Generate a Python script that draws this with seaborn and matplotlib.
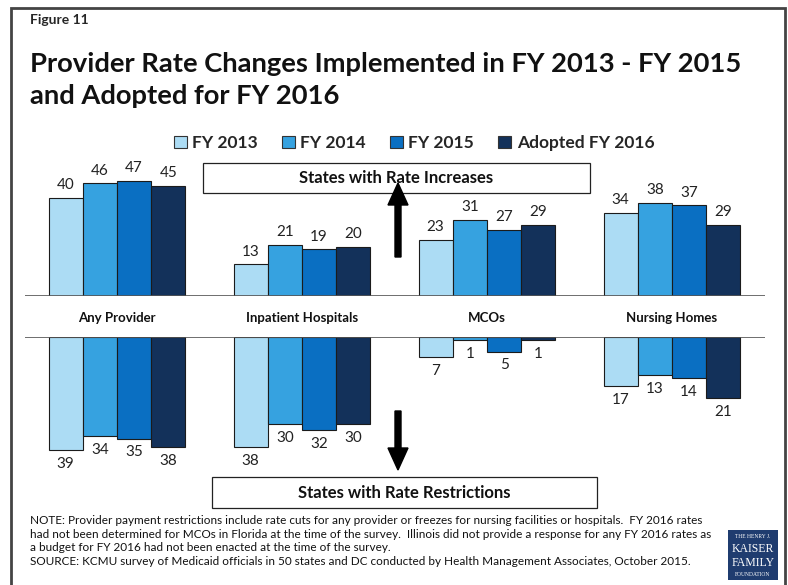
import numpy as np
import pandas as pd
import matplotlib
matplotlib.use('Agg')
import matplotlib.pyplot as plt
import seaborn as sns
from matplotlib.patches import Rectangle, FancyArrow, Patch

# Data
providers = ['Any Provider', 'Inpatient Hospitals', 'MCOs', 'Nursing Homes']
years = ['FY 2013', 'FY 2014', 'FY 2015', 'Adopted FY 2016']
increases = {
    'FY 2013': [40, 13, 23, 34],
    'FY 2014': [46, 21, 31, 38],
    'FY 2015': [47, 19, 27, 37],
    'Adopted FY 2016': [45, 20, 29, 29],
}
restrictions = {
    'FY 2013': [39, 38, 7, 17],
    'FY 2014': [34, 30, 1, 13],
    'FY 2015': [35, 32, 5, 14],
    'Adopted FY 2016': [38, 30, 1, 21],
}
colors = ['#acdcf4', '#36a2e0', '#0a6fc2', '#13315a']

df_up = pd.DataFrame([(p, y, increases[y][i]) for y in years for i, p in enumerate(providers)],
                     columns=['provider', 'year', 'states'])
df_dn = pd.DataFrame([(p, y, restrictions[y][i]) for y in years for i, p in enumerate(providers)],
                     columns=['provider', 'year', 'states'])

sns.set_style('white')
plt.rcParams['font.family'] = ['Lato', 'DejaVu Sans']

W, H = 788, 585
fig = plt.figure(figsize=(W / 100, H / 100), dpi=100)

def fx(px):
    return px / W

def fy(py):
    return 1 - py / H

left, right = 24.5, 764.5
# top axes: baseline at y=296 px, 2.45 px per state
ax1 = fig.add_axes([fx(left), fy(296), fx(right - left), (296 - 160) / H])
# bottom axes: baseline at y=337 px, 2.9 px per state
ax2 = fig.add_axes([fx(left), fy(480), fx(right - left), (480 - 337) / H])

for ax, df, off, va in [(ax1, df_up, 4, 'bottom'), (ax2, df_dn, -5, 'top')]:
    sns.barplot(data=df, x='provider', y='states', hue='year', hue_order=years,
                palette=colors, width=0.74, edgecolor='#1b1b1b', linewidth=0.8,
                saturation=1, legend=False, ax=ax)
    ax.set_xlim(-0.5, 3.5)
    ax.axis('off')
    ax.axhline(0, color='#555555', lw=1.2, zorder=5)
    for c in ax.containers:
        for bar in c:
            ax.annotate(f'{bar.get_height():.0f}', (bar.get_x() + bar.get_width() / 2, bar.get_height()),
                        xytext=(0, off), textcoords='offset points', ha='center', va=va,
                        fontsize=11, color='#222222', annotation_clip=False)

ax1.set_ylim(0, 136 / 2.45)
ax2.set_ylim(143 / 2.9, 0)

# category labels
for i, p in enumerate(providers):
    fig.text(fx(117 + 185 * i), fy(318), p, ha='center', va='center',
             fontsize=9.5, fontweight='bold', color='#111111')

# figure frame
fig.add_artist(Rectangle((fx(11), -0.05), fx(774), fy(8) + 0.05, fill=False,
                         edgecolor='#444444', lw=2, transform=fig.transFigure))

fig.text(fx(30), fy(20), 'Figure 11', fontsize=10, fontweight='bold', va='center')
fig.text(fx(30), fy(80), 'Provider Rate Changes Implemented in FY 2013 - FY 2015\nand Adopted for FY 2016',
         fontsize=19.7, fontweight='bold', va='center', linespacing=1.4, color='#111111')

# legend
handles = [Patch(facecolor=c, edgecolor='#333333', lw=0.8) for c in colors]
fig.legend(handles, years, loc='center', bbox_to_anchor=(fx(414), fy(143)), ncol=4,
           frameon=False, prop={'weight': 'bold', 'size': 12.5}, handlelength=0.75,
           handleheight=0.75, handletextpad=0.3, columnspacing=1.4)

# boxes
for (x0, y0, x1, y1, txt) in [(203, 163, 590, 193, 'States with Rate Increases'),
                              (212, 477, 597, 508, 'States with Rate Restrictions')]:
    fig.add_artist(Rectangle((fx(x0), fy(y1)), fx(x1 - x0), (y1 - y0) / H, facecolor='white',
                             edgecolor='#222222', lw=0.9, transform=fig.transFigure))
    fig.text(fx((x0 + x1) / 2), fy((y0 + y1) / 2), txt, ha='center', va='center',
             fontsize=12, fontweight='bold', color='#111111')

# arrows (inches)
fig.add_artist(FancyArrow(3.98, (H - 257) / 100, 0, 0.74, width=0.06, head_width=0.2,
                          head_length=0.22, length_includes_head=True, color='black',
                          transform=fig.dpi_scale_trans))
fig.add_artist(FancyArrow(3.98, (H - 411) / 100, 0, -0.59, width=0.06, head_width=0.2,
                          head_length=0.22, length_includes_head=True, color='black',
                          transform=fig.dpi_scale_trans))

note = ('NOTE: Provider payment restrictions include rate cuts for any provider or freezes for nursing facilities or hospitals.  FY 2016 rates\n'
        'had not been determined for MCOs in Florida at the time of the survey.  Illinois did not provide a response for any FY 2016 rates as\n'
        'a budget for FY 2016 had not been enacted at the time of the survey.\n'
        'SOURCE: KCMU survey of Medicaid officials in 50 states and DC conducted by Health Management Associates, October 2015.')
fig.text(fx(30), fy(515), note, fontsize=8.5, va='top', linespacing=1.3, color='#111111')

# logo
fig.add_artist(Rectangle((fx(728), fy(580)), fx(50), 50 / H, facecolor='#1f3c6f',
                         edgecolor='none', transform=fig.transFigure))
for txt, py, fs in [('THE HENRY J.', 536, 4), ('KAISER', 549, 8.5), ('FAMILY', 563, 8.5),
                    ('FOUNDATION', 575, 4)]:
    fig.text(fx(753), fy(py), txt, ha='center', va='center', fontsize=fs, color='white',
             family=['Liberation Serif', 'DejaVu Serif'])

fig.savefig('out.png', dpi=100)
